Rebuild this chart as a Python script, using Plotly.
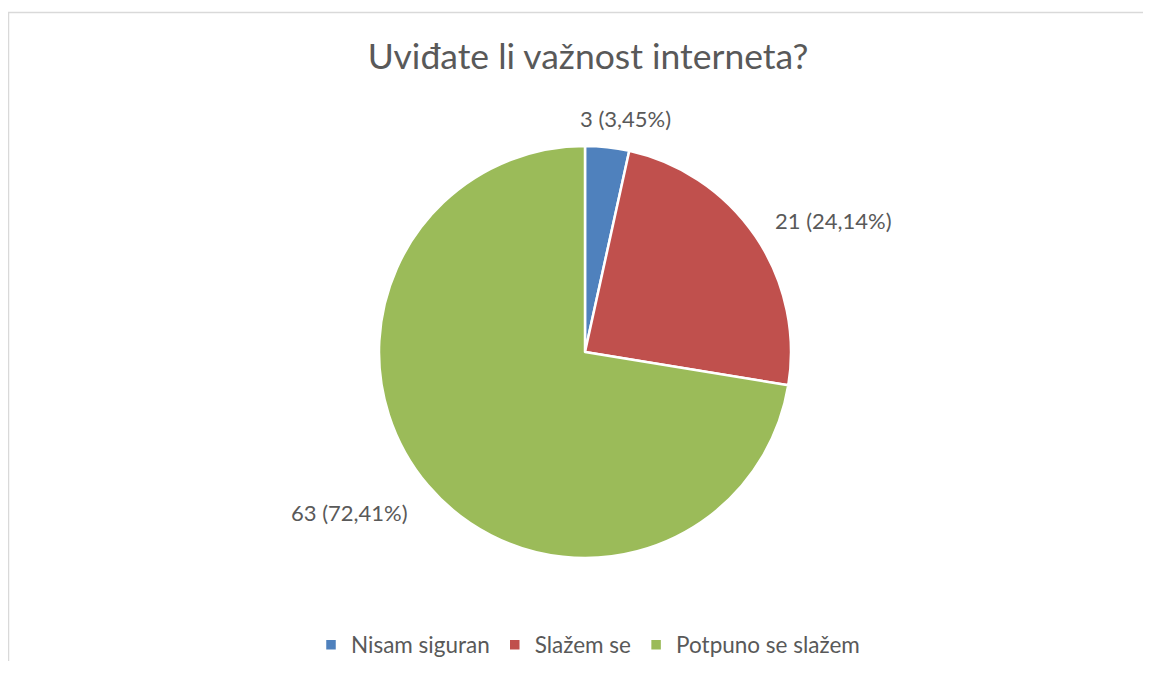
import math
import plotly.graph_objects as go

categories = ["Nisam siguran", "Slažem se", "Potpuno se slažem"]
values = [3, 21, 63]
colors = ["#4F81BD", "#C0504D", "#9BBB59"]
title_text = "Uviđate li važnost interneta?"

# page body has an 8px margin, so the figure starts at (8, 8)
OFF = 8
W, H = 1151 - 2 * OFF, 677 - 2 * OFF - 8
cx, cy, r = 585 - OFF, 352 - OFF, 206
FONT = "Lato"
TXT = "#595959"

fig = go.Figure(go.Pie(
    labels=categories,
    values=values,
    sort=False,
    direction="clockwise",
    rotation=0,
    marker=dict(colors=colors, line=dict(color="white", width=2.5)),
    textinfo="none",
    hoverinfo="label+value+percent",
    domain=dict(x=[(cx - r) / W, (cx + r) / W], y=[1 - (cy + r) / H, 1 - (cy - r) / H]),
    showlegend=True,
))

# data labels placed outside each slice, computed from the values
total = sum(values)
annotations = []
cum = 0
for v in values:
    mid = (cum + v / 2) / total * 2 * math.pi
    cum += v
    s, c = math.sin(mid), math.cos(mid)
    R = r * 1.14
    px, py = cx + R * s, cy - R * c
    if abs(s) < 0.35:
        xa = "center"
        px += 15
    elif s > 0:
        xa = "left"
        px -= 6
    else:
        xa = "right"
        px += 4
        py += 8
    txt = f"{v} ({v / total * 100:.2f}%)".replace(".", ",")
    annotations.append(dict(text=txt, x=px / W, y=1 - py / H, xref="paper", yref="paper",
                            xanchor=xa, yanchor="middle", showarrow=False,
                            font=dict(family=FONT, size=22, color=TXT)))

top = 1 - 4.5 / H
fig.update_layout(
    width=W, height=H,
    margin=dict(l=0, r=0, t=0, b=0, autoexpand=False),
    paper_bgcolor="white",
    plot_bgcolor="white",
    title=dict(text=title_text, x=(588 - OFF) / W, xanchor="center", y=1 - (57 - OFF) / H, yanchor="middle",
               font=dict(family=FONT, size=35.5, color=TXT)),
    legend=dict(orientation="h", x=(588 - OFF) / W, xanchor="center", y=1 - (645 - OFF) / H, yanchor="middle",
                font=dict(family=FONT, size=22.5, color=TXT), itemwidth=30,
                traceorder="normal"),
    annotations=annotations,
    shapes=[
        dict(type="line", xref="paper", yref="paper", x0=0, x1=1, y0=top, y1=top,
             line=dict(color="#D9D9D9", width=1.5), layer="below"),
        dict(type="line", xref="paper", yref="paper", x0=0.5 / W, x1=0.5 / W, y0=0, y1=top,
             line=dict(color="#D9D9D9", width=1.5), layer="below"),
    ],
)

fig.write_html("out.html")
